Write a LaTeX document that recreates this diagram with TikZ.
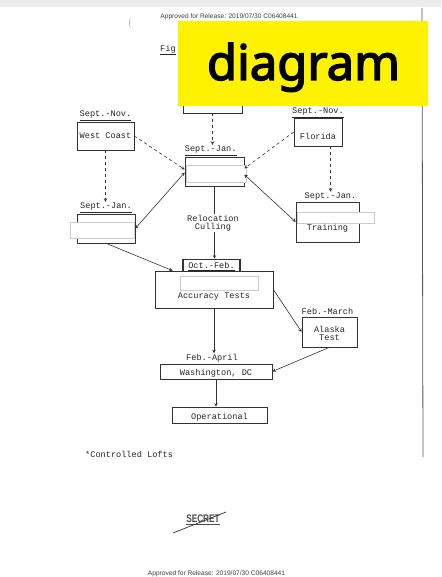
\documentclass[tikz,border=0pt]{standalone}
\usepackage{fontspec}
\setmonofont{Liberation Mono}
\newfontfamily\stampfont{Liberation Sans}
\newfontfamily\coverfont{Noto Sans}[AutoFakeBold=3]
\usetikzlibrary{positioning}

\begin{document}
\begin{tikzpicture}[x=1pt,y=-1pt,
  ink/.style={draw=black!80,line width=0.6pt},
  frame/.style={ink,rectangle,inner sep=0pt},
  txt/.style={font=\ttfamily\fontsize{8.6}{10}\selectfont,text=black!85,inner sep=1pt,align=center},
  blank/.style={fill=white,draw=black!20,line width=0.4pt},
  flow/.style={ink,->,>=stealth},
  plan/.style={flow,dashed},
  swap/.style={ink,<->,>=stealth}]
  \useasboundingbox (0,0) rectangle (441,577);
  \fill[white] (0,0) rectangle (441,577);
  \fill[black!8] (0,0) rectangle (441,7);
  % page header and footer
  \node[font=\stampfont\fontsize{6.6}{8}\selectfont,text=black!75] (head) at (229,17)
    {Approved for Release: 2019/07/30 C06408441};
  \node[font=\stampfont\fontsize{6.6}{8}\selectfont,text=black!75] (foot) at (216.5,574)
    {Approved for Release: 2019/07/30 C06408441};
  \node[text=black!50,font=\small] (speck) at (130,23) {(};
  \draw[black!65,line width=0.8pt] (422,8) -- (423,457);
  \node[txt,anchor=west] (fig) at (159,50) {\underline{Fig}};

  % boxes
  \node[frame,minimum width=59pt,minimum height=28pt] (topbox) at (212.5,99) {};
  \node[frame,minimum width=57pt,minimum height=28pt] (west) at (105.5,136) {};
  \node[frame,minimum width=48pt,minimum height=28pt] (florida) at (318,132) {};
  \node[frame,minimum width=59pt,minimum height=29pt] (hub) at (214.5,171.5) {};
  \node[frame,minimum width=58pt,minimum height=29pt] (loft) at (106,228.5) {};
  \node[frame,minimum width=63pt,minimum height=40pt] (training) at (327.5,222) {};
  \node[frame,minimum width=118pt,minimum height=37pt] (tests) at (214,289.5) {};
  \node[frame,line width=1.6pt,minimum width=57pt,minimum height=12pt] (tab) at (211.5,265.5) {};
  \node[frame,minimum width=55pt,minimum height=30pt] (alaska) at (329.5,332) {};
  \node[frame,minimum width=112pt,minimum height=15pt] (capital) at (216,371.5) {};
  \node[frame,minimum width=95pt,minimum height=16pt] (operational) at (219.5,415) {};

  % blanked fields
  \filldraw[blank] (186,165) rectangle (246,182);
  \filldraw[blank] (70,222) rectangle (134,238);
  \filldraw[blank] (297,212) rectangle (374,223);
  \filldraw[blank] (180,276) rectangle (258,290);

  % texts
  \node[txt] (westname) at (west) {West Coast};
  \node[txt] (floridaname) at ([yshift=-4pt]florida.center) {Florida};
  \node[txt] (trainingname) at ([yshift=-6pt]training.center) {Training};
  \node[txt] (testsname) at ([yshift=-7pt]tests.center) {Accuracy Tests};
  \node[txt] (alaskaname) at ([yshift=-1.5pt]alaska.center) {Alaska\\[-2pt]Test};
  \node[txt] (capitalname) at ([yshift=-1.5pt]capital.center) {Washington, DC};
  \node[txt] (operationalname) at ([yshift=-2pt]operational.center) {Operational};
  \node[txt] (cull) at (213,223) {Relocation\\[-2pt]Culling};

  \node[txt,above=0pt of west] (westdate) {\underline{Sept.-Nov.}};
  \node[txt,above=-1pt of florida] (floridadate) {\underline{Sept.-Nov.}};
  \node[txt,above right=0pt and -1pt of hub.north west] (hubdate) {\underline{Sept.-Jan.}};
  \node[txt,above=0pt of loft] (loftdate) {\underline{Sept.-Jan.}};
  \node[txt,above=0pt of training,xshift=3pt] (trainingdate) {Sept.-Jan.};
  \node[txt] (tabdate) at ([yshift=-1pt]tab.center) {\underline{Oct.-Feb.}};
  \node[txt,above=1pt of alaska,xshift=-2pt] (alaskadate) {Feb.-March};
  \node[txt,above=0pt of capital,xshift=-4pt] (capitaldate) {Feb.-April};

  % connectors
  \draw[plan] (topbox.south) -- (topbox.south |- hubdate.north);
  \draw[plan] (west.east) -- ([yshift=2pt]hub.west);
  \draw[plan] (florida.west) -- ([yshift=3pt]hub.east);
  \draw[plan] (west.south) -- (west.south |- loftdate.north);
  \draw[plan] (trainingdate.north |- florida.south) -- (trainingdate.north);
  \draw[swap] (loft.east) -- ([yshift=-1pt]hub.west);
  \draw[swap] ([yshift=-3pt]hub.east) -- (training.west);
  \draw[ink] (hub.south) -- (hub.south |- cull.north);
  \draw[flow] (hub.south |- cull.south) -- (hub.south |- tab.north);
  \draw[flow] (loft.south) -- ([xshift=18pt]tests.north west);
  \draw[flow] (tests.south) -- (tests.south |- capitaldate.north);
  \draw[flow] (tests.east) -- (alaska.west);
  \draw[flow] (alaska.south) -- (capital.east);
  \draw[flow] (capital.south) -- (capital.south |- operational.north);

  \node[txt,anchor=west] (lofts) at (84,454) {*Controlled Lofts};

  % stamp
  \node[font=\stampfont\bfseries\fontsize{11}{12}\selectfont,text=black!70,xscale=0.75] (stamp) at (203,520)
    {\underline{SECRET}};
  \draw[black!80,line width=0.7pt] (173,533) -- (226,512);

  % cover patch
  \fill[yellow] (178,21) rectangle (428,106);
  \node[font=\coverfont\bfseries\fontsize{49}{54}\selectfont,anchor=base] (cover) at (303.5,80) {diagram};
\end{tikzpicture}
\end{document}
